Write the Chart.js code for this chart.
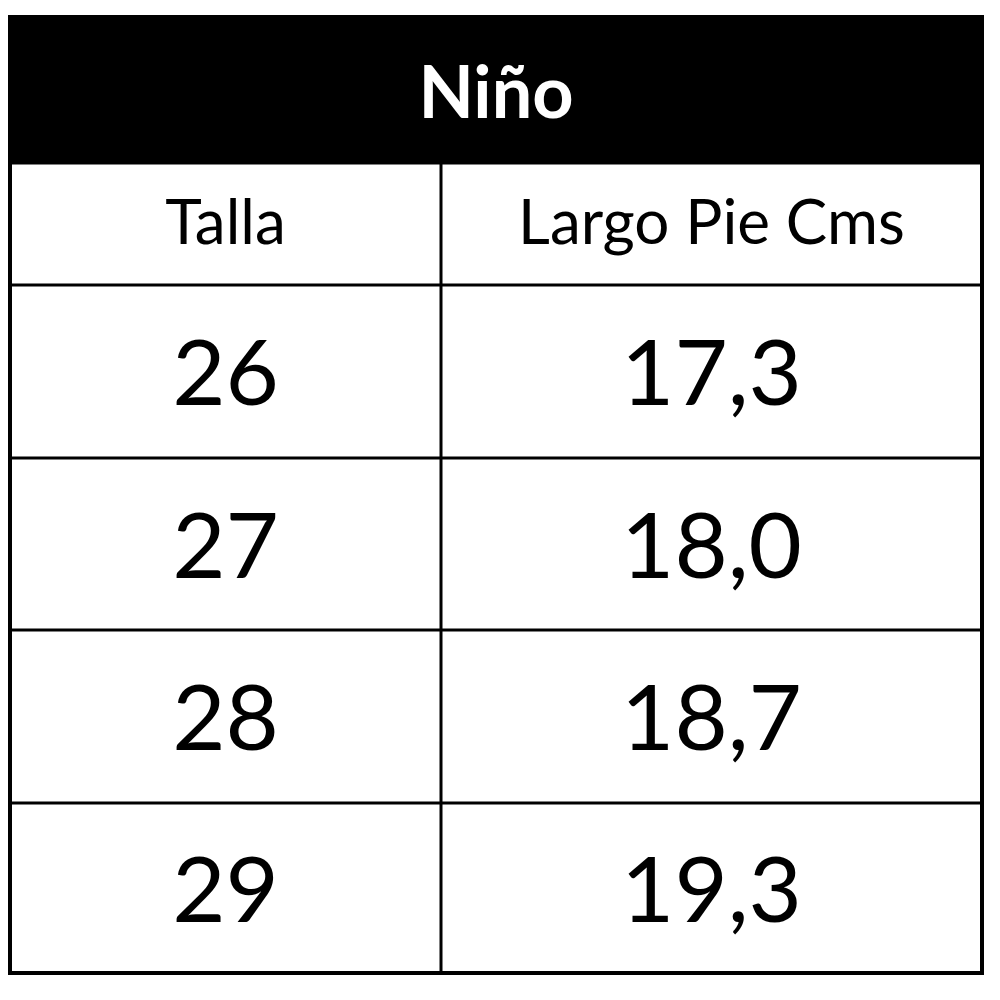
<!DOCTYPE html>
<html><head><meta charset="utf-8">
<script src="https://cdn.jsdelivr.net/npm/chart.js@4"></script>
<style>html,body{margin:0;padding:0;background:#fff}</style>
</head><body>
<canvas id="c" width="1000" height="1000"></canvas>
<script>
const title = "Niño";
const headers = ["Talla", "Largo Pie Cms"];
const tallas = ["26", "27", "28", "29"];
const largo = ["17,3", "18,0", "18,7", "19,3"];

// table geometry in scale units
const colEdges = [0, 431, 972];
const rowEdges = [0, 146, 268, 441, 613, 786, 956];

const tablePlugin = {
  id: 'table',
  afterDraw(chart) {
    const ctx = chart.ctx, xs = chart.scales.x, ys = chart.scales.y;
    const X = v => xs.getPixelForValue(v), Y = v => ys.getPixelForValue(v);
    ctx.save();
    // header
    ctx.fillStyle = '#000';
    ctx.fillRect(X(0), Y(0), X(972) - X(0), Y(146) - Y(0));
    ctx.textAlign = 'center'; ctx.textBaseline = 'middle';
    ctx.fillStyle = '#fff';
    ctx.font = 'bold 72px Lato';
    ctx.fillText(title, X(486), Y(78));
    ctx.fillStyle = '#000';
    const rows = [headers].concat(tallas.map((t, i) => [t, largo[i]]));
    rows.forEach((r, ri) => {
      const cy = (Y(rowEdges[ri + 1]) + Y(rowEdges[ri + 2])) / 2;
      ctx.font = ri === 0 ? '62px Lato' : '92px Lato';
      r.forEach((txt, ci) => {
        const cx = (X(colEdges[ci]) + X(colEdges[ci + 1])) / 2;
        ctx.fillText(txt, cx, cy + (ri === 0 ? 0 : 4));
      });
    });
    // grid lines
    ctx.strokeStyle = '#000'; ctx.lineWidth = 3;
    ctx.beginPath();
    for (let i = 1; i < rowEdges.length - 1; i++) {
      ctx.moveTo(X(0), Y(rowEdges[i])); ctx.lineTo(X(972), Y(rowEdges[i]));
    }
    ctx.moveTo(X(431), Y(146)); ctx.lineTo(X(431), Y(956));
    ctx.stroke();
    ctx.lineWidth = 4;
    ctx.strokeRect(X(0), Y(0), X(972) - X(0), Y(956) - Y(0));
    ctx.restore();
  }
};

new Chart(document.getElementById('c'), {
  type: 'scatter',
  data: { datasets: [{ data: [], pointRadius: 0 }] },
  options: {
    responsive: false, devicePixelRatio: 1, animation: false,
    layout: { padding: { left: 10, right: 18, top: 17, bottom: 27 } },
    plugins: { legend: { display: false }, tooltip: { enabled: false } },
    scales: {
      x: { type: 'linear', min: 0, max: 972, display: false },
      y: { type: 'linear', min: 0, max: 956, reverse: true, display: false }
    }
  },
  plugins: [tablePlugin]
});
</script>
</body></html>
